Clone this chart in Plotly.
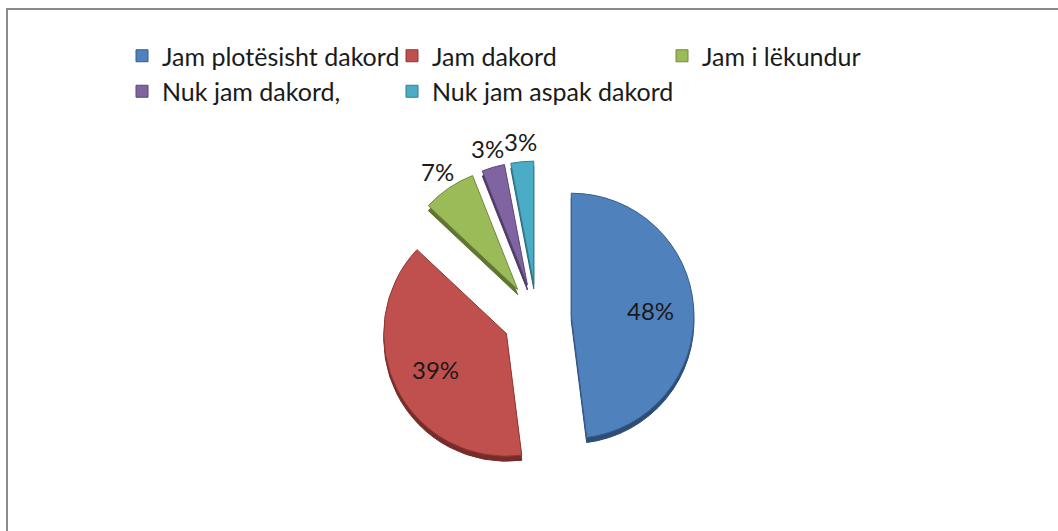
import math
import plotly.graph_objects as go

# Survey responses (percent of respondents)
categories = [
    "Jam plotësisht dakord",
    "Jam dakord",
    "Jam i lëkundur",
    "Nuk jam dakord,",
    "Nuk jam aspak dakord",
]
shares = [48, 39, 7, 3, 3]

face_colors = ["#4F81BD", "#C0504D", "#9BBB59", "#8064A2", "#4BACC6"]
edge_colors = ["#385D8A", "#8C3836", "#71893F", "#5C4776", "#357D91"]
depth_colors = ["#2C4D75", "#772C2A", "#5F7530", "#4D3B62", "#276A7C"]
label_outside = [False, False, True, True, True]

W, H = 1058, 531
M_R = 50
PLOT_W = W - M_R

# pie geometry in pixels (centre and half-size of the domain box)
CX, CY, HALF = 537, 318, 157
PULL = 0.28
DEPTH = 5
RADIUS = HALF / (1 + PULL)


def dom_x(cx):
    return [(cx - HALF) / PLOT_W, (cx + HALF) / PLOT_W]


def dom_y(cy):
    return [(H - cy - HALF) / H, (H - cy + HALF) / H]


fig = go.Figure()

# darker copy underneath gives the slices a little thickness
fig.add_trace(go.Pie(
    labels=categories,
    values=shares,
    sort=False,
    direction="clockwise",
    rotation=0,
    pull=[PULL] * len(shares),
    marker=dict(colors=depth_colors, line=dict(color=depth_colors, width=1)),
    textinfo="none",
    hoverinfo="skip",
    showlegend=False,
    domain=dict(x=dom_x(CX), y=dom_y(CY + DEPTH)),
))

fig.add_trace(go.Pie(
    labels=categories,
    values=shares,
    sort=False,
    direction="clockwise",
    rotation=0,
    pull=[PULL] * len(shares),
    marker=dict(colors=face_colors, line=dict(color=edge_colors, width=1)),
    textinfo="none",
    domain=dict(x=dom_x(CX), y=dom_y(CY)),
))

# percentage labels placed along each slice's bisector
annotations = []
total = sum(shares)
cum = 0
for value, outside in zip(shares, label_outside):
    theta = math.radians(360 * (cum + value / 2) / total)
    cum += value
    dist = RADIUS * (1 + PULL) + 20 if outside else RADIUS * PULL + 0.65 * RADIUS
    px = CX + dist * math.sin(theta)
    py = CY - dist * math.cos(theta)
    annotations.append(dict(
        x=px / PLOT_W, y=1 - py / H,
        xref="paper", yref="paper",
        text=f"{value}%",
        showarrow=False,
        xanchor="center", yanchor="middle",
        font=dict(family="Lato", size=24, color="#1a1a1a"),
    ))

fig.update_layout(
    width=W,
    height=H,
    margin=dict(l=0, r=M_R, t=0, b=0),
    paper_bgcolor="white",
    plot_bgcolor="white",
    font=dict(family="Lato", color="#1a1a1a"),
    legend=dict(
        orientation="h",
        x=122 / PLOT_W,
        xanchor="left",
        y=1 - 33 / H,
        yanchor="top",
        entrywidth=225,
        entrywidthmode="pixels",
        font=dict(family="Lato", size=25, color="#1a1a1a"),
        bgcolor="rgba(0,0,0,0)",
    ),
    annotations=annotations,
    shapes=[
        dict(
            type="rect",
            xref="paper", yref="paper",
            x0=7 / PLOT_W, x1=1.2,
            y0=-0.2, y1=1 - 9 / H,
            line=dict(color="#8a8a8a", width=2),
            fillcolor="rgba(0,0,0,0)",
            layer="below",
        )
    ],
)

fig.write_html("out.html")
